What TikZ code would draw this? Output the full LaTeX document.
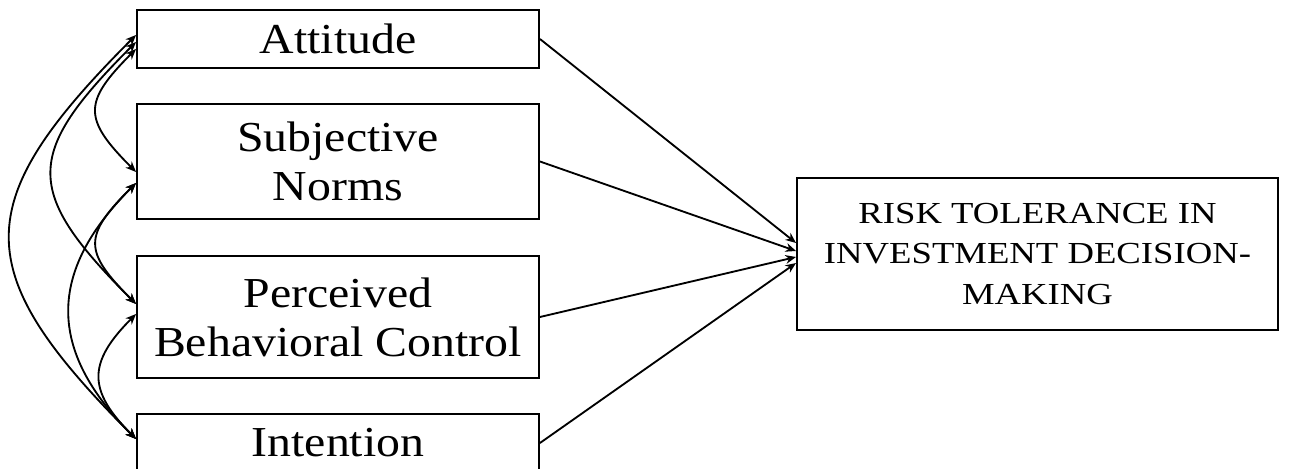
\documentclass[tikz,border=0pt]{standalone}
\usepackage{fontspec}
\setmainfont{Liberation Serif}[FakeStretch=1.12]
\newfontfamily\riskfont{Liberation Serif}[FakeStretch=1.2]
\usetikzlibrary{arrows.meta}

\begin{document}
\begin{tikzpicture}[>={Stealth[length=6pt,width=5pt]},
  factor/.style={draw,line width=1.1pt,minimum width=8.04cm,inner sep=0pt,align=center,font=\fontsize{24.3}{27.9}\selectfont},
  outcome/.style={draw,line width=1.1pt,minimum width=9.62cm,minimum height=3.04cm,inner sep=0pt,align=center,font=\riskfont\fontsize{17.4}{22.8}\selectfont},
  link/.style={line width=1.05pt}]
\useasboundingbox (0,0) rectangle (26.08,9.38);
\node [factor,minimum height=1.16cm] (att) at (6.76,8.6) {Attitude};
\node [factor,minimum height=2.3cm] (subj) at (6.76,6.15) {Subjective\\Norms};
\node [factor,minimum height=2.44cm] (pbc) at (6.76,3.04) {Perceived\\Behavioral Control};
\node [factor,minimum height=1.16cm] (intent) at (6.76,0.52) {Intention};
\node [outcome] (risk) at (20.75,4.3) {RISK TOLERANCE IN\\INVESTMENT DECISION-\\MAKING};
\draw [->,link] (att.east) -- ([yshift=0.22cm]risk.west);
\draw [->,link] (subj.east) -- ([yshift=0.06cm]risk.west);
\draw [->,link] (pbc.east) -- ([yshift=-0.06cm]risk.west);
\draw [->,link] (intent.east) -- ([yshift=-0.18cm]risk.west);
\draw [<->,link] ([yshift=-0.2cm]att.west) to [out=225,in=135,looseness=1.57] ([yshift=-0.21cm]subj.west);
\draw [<->,link] ([yshift=-0.43cm]subj.west) to [out=225,in=135,looseness=1.59] ([yshift=0.26cm]pbc.west);
\draw [<->,link] ([yshift=0.06cm]pbc.west) to [out=225,in=135,looseness=1.41] ([yshift=0.08cm]intent.west);
\draw [<->,link] ([yshift=-0.06cm]att.west) to [out=225,in=135,looseness=1.56] ([yshift=0.26cm]pbc.west);
\draw [<->,link] ([yshift=-0.43cm]subj.west) to [out=225,in=135,looseness=1.26] ([yshift=0.08cm]intent.west);
\draw [<->,link] ([yshift=0.08cm]att.west) to [out=225,in=135,looseness=1.51] ([yshift=0.08cm]intent.west);
\end{tikzpicture}
\end{document}
